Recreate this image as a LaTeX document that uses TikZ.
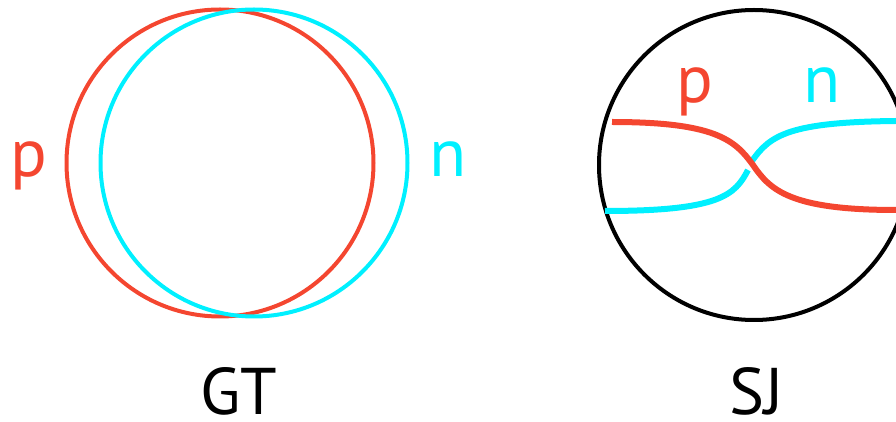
\documentclass[tikz,border=0pt]{standalone}
\usepackage{fontspec}
\setmainfont{PT Sans}
\definecolor{protred}{RGB}{244,70,48}
\definecolor{neutcyan}{RGB}{0,240,255}

\begin{document}
\begin{tikzpicture}[x=.5pt,y=-.5pt,
  nuc/.style={font=\fontsize{34}{40}\selectfont,anchor=base,inner sep=0pt},
  model/.style={font=\fontsize{33}{38}\selectfont,anchor=base,inner sep=0pt}]
 \useasboundingbox (0,0) rectangle (896,422);
 \clip (0,0) rectangle (896,422);
 % GT: two overlapping spheres
 \draw[protred,line width=2pt] (220,163) circle (153.5);
 \draw[neutcyan,line width=2pt] (254,163) circle (153.5);
 \node[nuc,text=protred] (pGT) at (29,177) {p};
 \node[nuc,text=neutcyan] (nGT) at (448,177) {n};
 \node[model] (GT) at (239,415) {GT};
 % SJ: one sphere, crossing strands
 \draw[black,line width=2pt] (754,165) circle (155);
 \coordinate (x) at (753,165);
 \draw[neutcyan,line width=3pt] (605,211) .. controls (720,211) and (735,195) .. (748,170);
 \draw[neutcyan,line width=3pt] (752,161) .. controls (770,135) and (790,122) .. (896,121);
 \draw[protred,line width=3pt] (612,122) .. controls (715,122) and (735,140) .. (x)
   .. controls (770,190) and (790,210) .. (896,210);
 \node[nuc,text=protred] (pSJ) at (695,103) {p};
 \node[nuc,text=neutcyan] (nSJ) at (822,103) {n};
 \node[model] (SJ) at (757,415) {SJ};
\end{tikzpicture}
\end{document}
